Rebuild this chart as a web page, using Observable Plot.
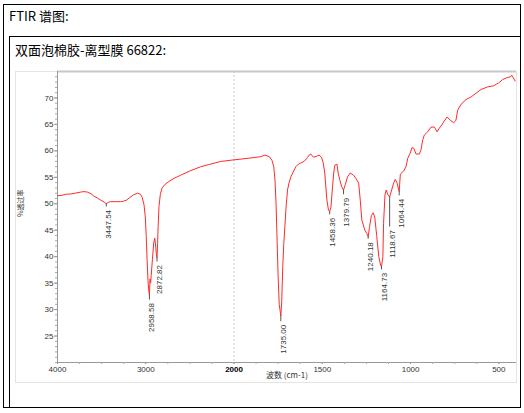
<!DOCTYPE html>
<html><head><meta charset="utf-8">
<script src="https://cdn.jsdelivr.net/npm/d3@7"></script>
<script src="https://cdn.jsdelivr.net/npm/@observablehq/plot@0.6"></script>
<style>
html,body{margin:0;padding:0;background:#fff;width:524px;height:413px;overflow:hidden;position:relative;font-family:"Noto Sans CJK SC",sans-serif;}
.outer{position:absolute;left:3px;top:4px;width:518px;height:404px;border:1.5px solid #000;box-sizing:border-box;}
.inner{position:absolute;left:9px;top:36px;width:512px;height:372px;border-left:1.5px solid #000;border-top:1.5px solid #000;box-sizing:border-box;}
.t1{position:absolute;left:9px;top:7px;font-size:13px;line-height:18px;color:#000;white-space:nowrap;}
.t2{position:absolute;left:15px;top:41px;font-size:13px;line-height:18px;color:#000;white-space:nowrap;}
.frame{position:absolute;left:15px;top:71px;width:502px;height:312px;border:1px solid #e4e4e4;box-sizing:border-box;}
#chart{position:absolute;left:15px;top:70px;}
</style></head>
<body>
<div class="outer"></div>
<div class="inner"></div>
<div class="t1">FTIR 谱图:</div>
<div class="t2">双面泡棉胶-离型膜 66822:</div>
<div class="frame"></div>
<div id="chart"></div>
<script>
// Spectrum (wavenumber cm-1, % transmittance)
const specW = [4000,3950,3900,3852,3800,3740,3700,3660,3620,3592,3550,3512,3470,3447.54,3420,3399,3340,3285,3250,3217,3180,3138,3092,3060,3040,3020,3005,2995,2985,2975,2965,2958.58,2952,2945,2938,2925,2910,2898,2888,2880,2872.82,2866,2860,2850,2835,2815,2780,2740,2680,2605,2500,2378,2287,2151,2000,1920,1849,1825,1800,1785,1775,1768,1762,1756,1750,1744,1735,1730,1724,1718,1712,1705,1697,1688,1678,1665,1650,1635,1622,1603,1585,1575,1565,1550,1531,1518,1505,1495,1486,1474,1465,1458.36,1451,1442,1435,1429,1417,1410,1400,1390,1379.79,1370,1357,1342,1323,1310,1294,1285,1276,1259,1248,1240.18,1233,1222,1212,1203,1192,1180,1170,1164.73,1157,1153,1145,1138,1130,1118.67,1107,1096,1087,1077,1070,1064.44,1058,1039,1026,1016,1003,992,982,969,950,941,931,922,903,884,865,850,837,823,812,793,775,756,743,733,714,686,657,629,601,563,529,515,502,478,449,433,427,419,408];
const specT = [51.5,51.6,51.8,51.85,52.0,52.2,52.3,52.2,51.9,51.5,51.1,50.7,50.3,50.0,50.3,50.4,50.4,50.4,50.5,50.7,51.2,51.7,52.0,51.8,51.2,49.8,47.5,44.0,39.5,35.5,33.5,32.8,35.8,35.0,36.5,39.4,42.6,43.5,42.0,40.5,39.8,42.5,45.7,49.5,51.8,53.0,53.7,54.2,54.8,55.4,56.2,57.0,57.4,58.0,58.3,58.6,58.9,59.2,58.9,58.2,57.0,54.5,50.0,43.0,36.0,31.0,28.8,31.5,38.1,42.5,45.7,49.5,52.6,54.0,55.1,56.0,57.0,57.5,57.7,58.0,58.7,59.2,59.4,58.8,59.0,59.2,58.8,57.8,55.8,50.7,48.8,48.5,49.4,53.2,56.0,57.3,57.5,55.8,54.4,53.2,52.6,53.6,55.1,55.8,55.4,54.8,53.9,50.7,46.9,45.0,44.4,43.8,45.5,47.8,48.3,47.5,44.0,40.0,38.4,38.1,40.0,46.3,51.7,52.6,51.8,51.3,52.6,53.9,54.6,54.0,53.0,52.3,55.6,56.2,57.0,58.6,59.5,60.6,60.5,59.4,59.4,60.2,62.1,63.0,63.6,64.5,64.5,63.6,64.3,64.9,65.5,66.4,65.8,65.3,65.8,67.7,68.8,69.7,70.2,70.9,71.6,72.1,72.3,72.6,72.8,73.5,73.9,74.0,74.3,73.9,73.2];

// Labelled peaks
const peakW = [3447.54,2958.58,2872.82,1735.00,1458.36,1379.79,1240.18,1164.73,1118.67,1064.44];
const peakT = [50.0,32.8,39.8,28.8,48.5,52.6,43.8,38.1,51.3,52.3];
const peakLabelT = [49.4,31.8,39.0,27.7,47.9,51.7,43.3,37.5,45.6,51.5];

// Axis ticks
const xTickLabels = [4000,3000,2000,1500,1000,500];
const yTickLabels = [25,30,35,40,45,50,55,60,65,70];

const spectrum = specW.map((w, i) => ({w, t: specT[i]}));
const peaks = peakW.map((w, i) => ({w, t: peakT[i], lt: peakLabelT[i]}));

// FTIR axis: 4000-2000 compressed 2x relative to 2000-400
const u = w => w >= 2000 ? (4000 - w) / 2 : 1000 + (2000 - w);
const wOf = v => v <= 1000 ? 4000 - 2 * v : 2000 - (v - 1000);
const fmt = v => String(Math.round(wOf(v)));

const tickFont = {fontSize: 8, fill: "#333", stroke: "#999"};

const chart = Plot.plot({
  width: 502, height: 313,
  marginLeft: 42, marginRight: 1, marginTop: 1, marginBottom: 21,
  x: {domain: [0, 2600]},
  y: {domain: [20, 75]},
  style: {background: "transparent", fontFamily: "'Liberation Sans', sans-serif", fontSize: "8px", color: "#333", overflow: "visible"},
  marks: [
    Plot.ruleX([2000], {x: u, stroke: "#c8c8c8", strokeDasharray: "2,2"}),
    Plot.ruleY([75], {stroke: "#c8c8c8", strokeWidth: 2}),
    Plot.ruleX([0], {stroke: "#999"}),
    Plot.ruleY([20], {stroke: "#999"}),
    Plot.axisY(d3.range(20, 75, 1), {tickSize: 2, fill: "none", stroke: "#aaa"}),
    Plot.axisY(yTickLabels, {tickSize: 3, tickPadding: 1, tickFormat: d => String(d), ...tickFont}),
    Plot.axisX(d3.range(0, 2601, 125), {tickSize: 2, fill: "none", stroke: "#aaa"}),
    Plot.axisX(xTickLabels.filter(v => v !== 2000).map(u), {tickSize: 2, tickPadding: 2, tickFormat: fmt, ...tickFont}),
    Plot.axisX([u(2000)], {tickSize: 2, tickPadding: 2, tickFormat: fmt, fontWeight: "bold", ...tickFont, fill: "#000"}),
    Plot.line(spectrum, {x: d => u(d.w), y: "t", stroke: "#ff2a2a", strokeWidth: 1}),
    Plot.ruleX(peaks, {x: d => u(d.w), y1: "t", y2: "lt", stroke: "#555"}),
    Plot.text(peaks, {x: d => u(d.w), y: "lt", text: d => d.w.toFixed(2), rotate: -90, textAnchor: "end", lineAnchor: "middle", dx: 2.5, dy: 3, fontSize: 8, fill: "#333"}),
    Plot.text(["%透过率"], {frameAnchor: "left", rotate: -90, dx: -37, fontSize: 7, fill: "#333", fontFamily: "Noto Sans CJK SC"}),
    Plot.text(["波数 (cm-1)"], {frameAnchor: "bottom", dy: 15, fontSize: 8, fill: "#333", fontFamily: "Noto Sans CJK SC"})
  ]
});
document.getElementById("chart").appendChild(chart);
</script>
</body></html>
